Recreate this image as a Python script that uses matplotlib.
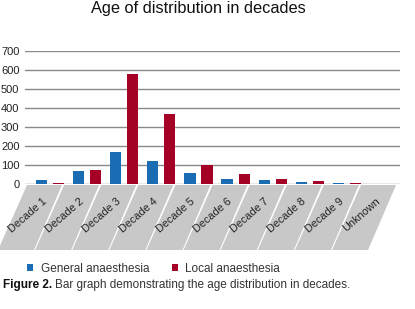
import matplotlib
matplotlib.use("Agg")
import matplotlib.pyplot as plt
from matplotlib.patches import Polygon
from matplotlib.transforms import IdentityTransform
import numpy as np

categories = ["Decade 1", "Decade 2", "Decade 3", "Decade 4", "Decade 5",
              "Decade 6", "Decade 7", "Decade 8", "Decade 9", "Unknown"]
general = [21, 68, 170, 122, 59, 28, 22, 12, 5, 0]
local = [5, 74, 579, 369, 101, 54, 28, 17, 6, 0]

plt.rcParams['font.family'] = ['Liberation Sans', 'DejaVu Sans']

W, H = 415, 309
fig = plt.figure(figsize=(W / 100, H / 100), dpi=100)
ax = fig.add_axes([25 / W, 1 - 184.3 / H, 375 / W, 133.3 / H])

x = np.arange(len(categories))
w = 0.30
ax.bar(x - 0.23, general, w, color='#1a6db3', label='General anaesthesia', zorder=3)
ax.bar(x + 0.23, local, w, color='#a50026', label='Local anaesthesia', zorder=3)
ax.set_ylim(0, 700)
ax.set_xlim(-0.674, 9.43)
ax.set_yticks(range(0, 701, 100))
ax.set_xticks([])
ax.yaxis.grid(True, color='#8a8a8a', lw=1)
ax.set_axisbelow(True)
for s in ax.spines.values():
    s.set_visible(False)
ax.tick_params(axis='y', length=0, pad=4, labelsize=8, labelcolor='#222222')

# slanted grey label bands (pixel offsets from each category centre)
for i, lab in enumerate(categories):
    cx = ax.transData.transform((i, 0))[0]
    pts = [(cx - 23, H - 185), (cx + 12, H - 185), (cx - 16, H - 250), (cx - 52, H - 250)]
    fig.add_artist(Polygon(pts, closed=True, facecolor='#c8c8c8', edgecolor='none',
                           transform=IdentityTransform()))
    fig.text(cx - 5, H - 200, lab, transform=IdentityTransform(), rotation=41,
             rotation_mode='anchor', ha='right', va='center', fontsize=7.8, color='#222222')

fig.text(198 / W, 1 - 9 / H, "Age of distribution in decades", ha='center', va='center',
         fontsize=11.8, color='#111111')

fig.legend(loc='center left', bbox_to_anchor=(27 / W, 1 - 269 / H), ncol=2, frameon=False,
           fontsize=8.5, handlelength=0.55, handleheight=0.55, handletextpad=0.6,
           columnspacing=1.9, borderpad=0, borderaxespad=0, labelcolor='#333333')

t1 = fig.text(3 / W, 1 - 285 / H, "Figure 2.", weight='bold', va='center', fontsize=8.5,
              color='#111111')
fig.canvas.draw()
ext = t1.get_window_extent()
fig.text(ext.x1 + 3, ext.y0 + ext.height / 2, "Bar graph demonstrating the age distribution in decades.",
         transform=IdentityTransform(), va='center', fontsize=8.5, color='#333333')

fig.savefig("out.png", dpi=100)
